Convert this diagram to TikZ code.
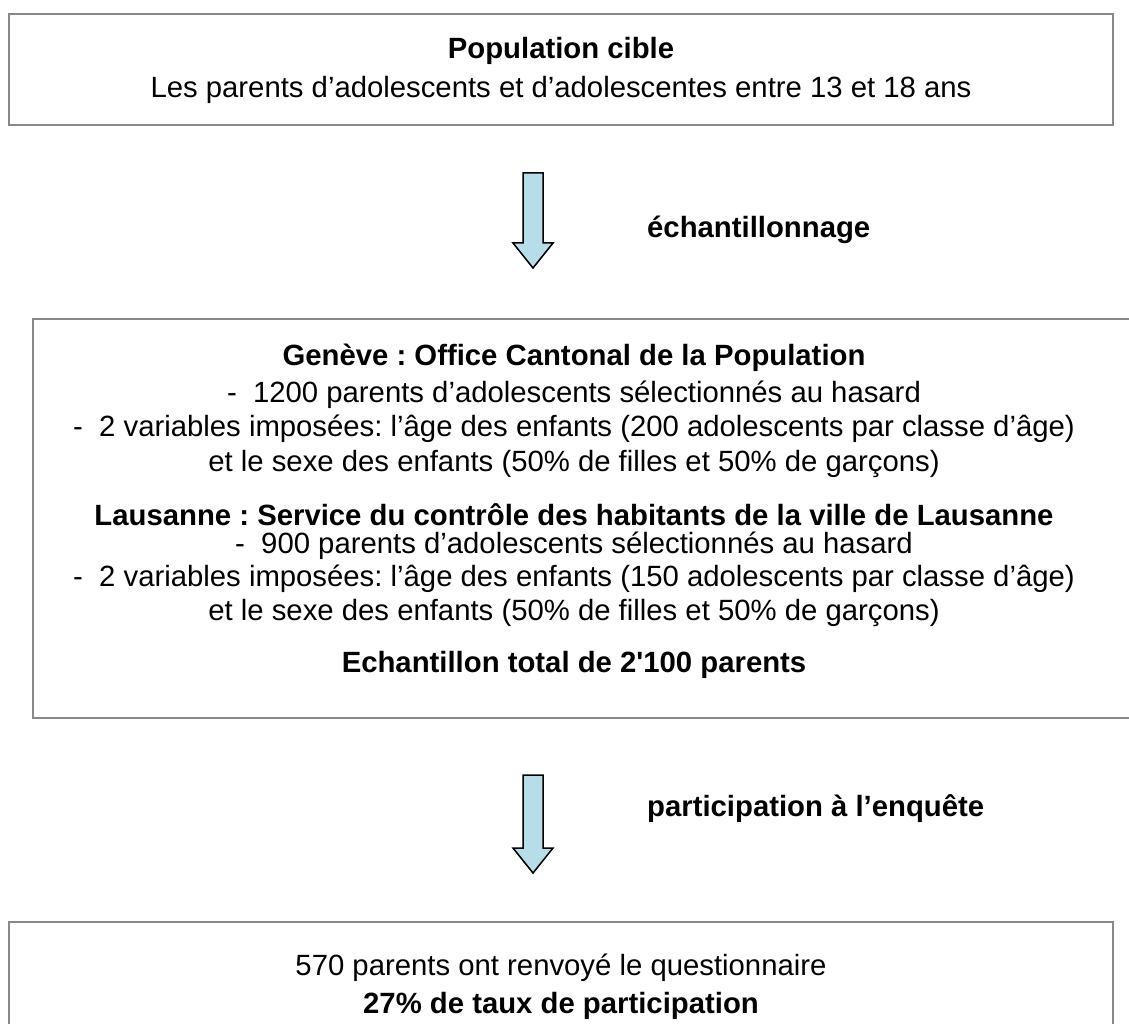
\documentclass[tikz,border=0pt]{standalone}
\usepackage{fontspec}
\setmainfont{Liberation Sans}
\frenchspacing
\definecolor{boxgray}{HTML}{888888}
\definecolor{arrowfill}{HTML}{B7DDE8}
\begin{document}
\begin{tikzpicture}[x=1pt,y=-1pt,
  box/.style={draw=boxgray, line width=2pt, fill=white},
  txt/.style={anchor=base, inner sep=0pt, font=\fontsize{29.3}{33}\selectfont},
  btxt/.style={txt, font=\fontsize{29.3}{33}\selectfont\bfseries},
  blockarrow/.style={draw=black, line width=1.5pt, fill=arrowfill, line join=miter}]
\useasboundingbox (0,0) rectangle (1129,1024);
\clip (0,0) rectangle (1129,1024);
% boxes
\draw[box] (9,14) rectangle (1113,125);
\draw[box] (33,319) rectangle (1140,718);
\draw[box] (9,922) rectangle (1113,1040);
\coordinate (b1bot) at (533,125);
\coordinate (b2top) at (533,319);
\coordinate (b2bot) at (533,718);
\coordinate (b3top) at (533,922);
% box 1 text
\node[btxt] (t1) at (561,58.5) {Population cible};
\node[txt] (t2) at (561,98) {Les parents d’adolescents et d’adolescentes entre 13 et 18 ans};
% arrow 1
\draw[blockarrow] (523,173) -- (543,173) -- (543,243) -- (553,243) -- (533,268) -- (513,243) -- (523,243) -- cycle;
\node[btxt, anchor=base west] (l1) at (647,238) {échantillonnage};
% box 2 text
\node[btxt] (g0) at (574,365) {Genève : Office Cantonal de la Population};
\node[txt] (g1) at (574,402) {-\ \ 1200 parents d’adolescents sélectionnés au hasard};
\node[txt] (g2) at (574,436) {-\ \ 2 variables imposées: l’âge des enfants (200 adolescents par classe d’âge)};
\node[txt] (g3) at (574,471) {et le sexe des enfants (50\% de filles et 50\% de garçons)};
\node[btxt] (s0) at (574,525) {Lausanne : Service du contrôle des habitants de la ville de Lausanne};
\node[txt] (s1) at (574,553) {-\ \ 900 parents d’adolescents sélectionnés au hasard};
\node[txt] (s2) at (574,586) {-\ \ 2 variables imposées: l’âge des enfants (150 adolescents par classe d’âge)};
\node[txt] (s3) at (574,620) {et le sexe des enfants (50\% de filles et 50\% de garçons)};
\node[btxt] (e0) at (574,672) {Echantillon total de 2\textquotesingle 100 parents};
% arrow 2
\draw[blockarrow] (523,775) -- (543,775) -- (543,848) -- (553,848) -- (533,873) -- (513,848) -- (523,848) -- cycle;
\node[btxt, anchor=base west] (l2) at (647,816) {participation à l’enquête};
% box 3 text
\node[txt] (r1) at (561,975) {570 parents ont renvoyé le questionnaire};
\node[btxt] (r2) at (561,1013) {27\% de taux de participation};
\end{tikzpicture}
\end{document}
